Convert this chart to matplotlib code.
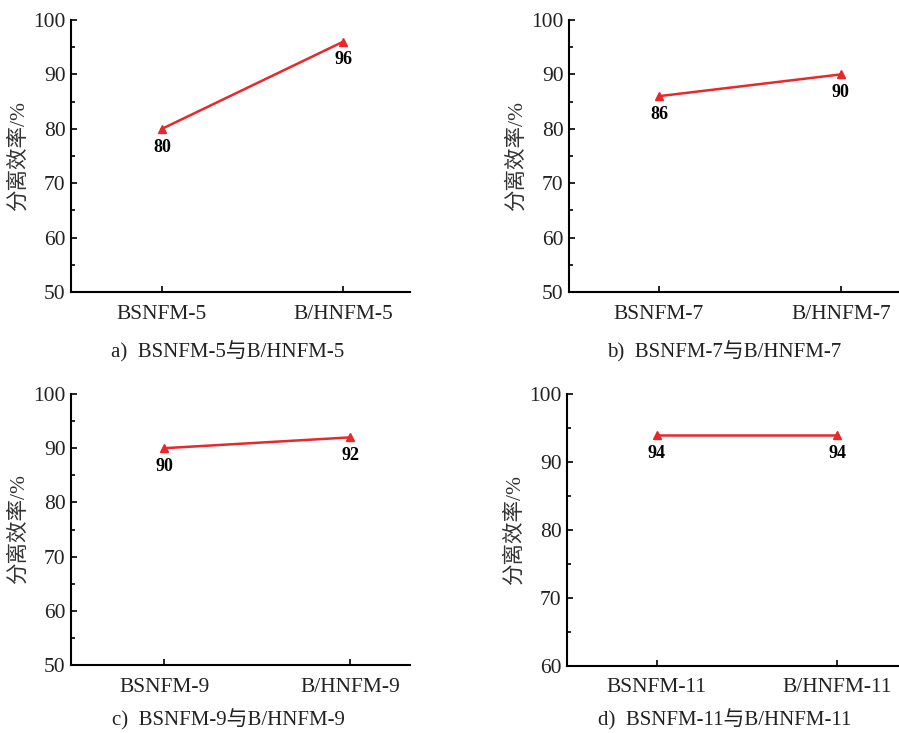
import matplotlib
matplotlib.use("Agg")
import matplotlib.pyplot as plt
from matplotlib import ticker as tk

plt.rcParams['font.family'] = ['Liberation Serif', 'Noto Sans CJK SC']
plt.rcParams['text.color'] = '#222222'
plt.rcParams['xtick.labelcolor'] = '#222222'
plt.rcParams['ytick.labelcolor'] = '#222222'

# data
labels_a = ["BSNFM-5", "B/HNFM-5"]
labels_b = ["BSNFM-7", "B/HNFM-7"]
labels_c = ["BSNFM-9", "B/HNFM-9"]
labels_d = ["BSNFM-11", "B/HNFM-11"]
eff_a = [80, 96]
eff_b = [86, 90]
eff_c = [90, 92]
eff_d = [94, 94]
captions = ["a)  BSNFM-5与B/HNFM-5", "b)  BSNFM-7与B/HNFM-7",
            "c)  BSNFM-9与B/HNFM-9", "d)  BSNFM-11与B/HNFM-11"]
ylims = [(50, 100), (50, 100), (50, 100), (60, 100)]

W, H = 899, 733
fig = plt.figure(figsize=(W / 100, H / 100), dpi=100)

red = '#e8282b'


def px_axes(l, t, r, b):
    return fig.add_axes([l / W, 1 - b / H, (r - l) / W, (b - t) / H])


panels = [
    (px_axes(71, 20, 410, 292), labels_a, eff_a, (-0.503, 1.37)),
    (px_axes(569, 20, 899, 292), labels_b, eff_b, (-0.495, 1.32)),
    (px_axes(71, 394, 410, 665), labels_c, eff_c, (-0.5, 1.32)),
    (px_axes(567, 394, 899, 666), labels_d, eff_d, (-0.495, 1.34)),
]

for i, (ax, labels, vals, xl) in enumerate(panels):
    x = list(range(len(labels)))
    ax.plot(x, vals, color=red, lw=1.8, marker='^', ms=6, mec=red, mfc=red,
            clip_on=False, zorder=3)
    for xi, v in zip(x, vals):
        ax.annotate(str(v), (xi, v), xytext=(0, -7), textcoords='offset points',
                    ha='center', va='top', fontsize=13, fontweight='bold',
                    color='black')
    ax.set_xlim(*xl)
    ax.set_ylim(*ylims[i])
    ax.set_xticks(x)
    ax.set_xticklabels(labels)
    ax.yaxis.set_major_locator(tk.MultipleLocator(10))
    ax.yaxis.set_minor_locator(tk.MultipleLocator(5))
    for s in ['top', 'right']:
        ax.spines[s].set_visible(False)
    for s in ['left', 'bottom']:
        ax.spines[s].set_linewidth(1.5)
    ax.tick_params(axis='both', which='major', direction='in', length=4,
                   width=1.2, labelsize=15.5)
    ax.tick_params(axis='x', pad=9)
    ax.tick_params(axis='y', pad=4)
    ax.tick_params(axis='y', which='minor', direction='in', length=3, width=1.2)
    ax.set_ylabel("分离效率/%", fontsize=15.5, labelpad=3, color='#333333')

fig.text(228 / W, 1 - 352 / H, captions[0], ha='center', va='center', fontsize=15)
fig.text(724 / W, 1 - 352 / H, captions[1], ha='center', va='center', fontsize=15)
fig.text(228 / W, 1 - 720 / H, captions[2], ha='center', va='center', fontsize=15)
fig.text(725 / W, 1 - 720 / H, captions[3], ha='center', va='center', fontsize=15)

fig.savefig("out.png", dpi=100)
